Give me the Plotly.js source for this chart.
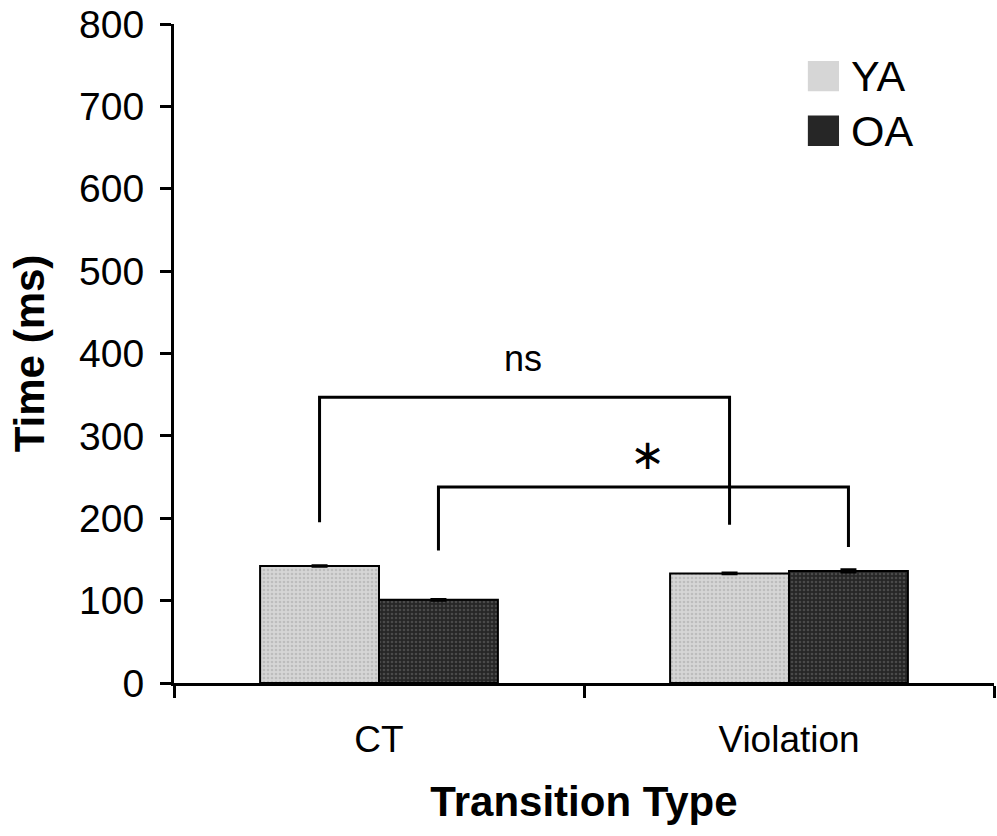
<!DOCTYPE html>
<html>
<head>
<meta charset="utf-8">
<script src="https://cdn.plot.ly/plotly-3.0.1.min.js"></script>
<style>html,body{margin:0;padding:0;background:#fff;}#chart{width:997px;height:836px;}</style>
</head>
<body>
<div id="chart"></div>
<script>
// ---- data ----
const categories = ["CT", "Violation"];
const seriesNames = ["YA", "OA"];
const yaValues = [142, 133];
const oaValues = [101, 136];
const yaErrors = [1, 1];
const oaErrors = [1, 2];
const seriesColors = ["#d6d6d6", "#262626"];
const seriesDotColors = ["#bdbdbd", "#4a4a4a"];
const yTickVals = [0, 100, 200, 300, 400, 500, 600, 700, 800];
const yTickText = ["0", "100", "200", "300", "400", "500", "600", "700", "800"];
// significance brackets: [category index, series index] endpoints, top value, leg bottoms, label
const bracketFrom = [[0, 0], [0, 1]];
const bracketTo = [[1, 0], [1, 1]];
const bracketTop = [347, 238];
const bracketLegs = [[195, 192], [161, 165]];
const bracketLabels = ["ns", "∗"];
const bracketLabelPos = [[0.35, 394], [0.656, 277]];

const bargap = 0.42;
const barW = (1 - bargap) / seriesNames.length;
function barCenter(cat, s) { return cat - (1 - bargap) / 2 + barW * (s + 0.5); }

const valuesList = [yaValues, oaValues];
const errList = [yaErrors, oaErrors];
const traces = seriesNames.map((n, i) => ({
  type: "bar", name: n, x: categories, y: valuesList[i],
  marker: {
    color: seriesColors[i], line: { color: "#000", width: 2 },
    pattern: { shape: ".", bgcolor: seriesColors[i], fgcolor: seriesDotColors[i], size: 4, solidity: 0.35, fillmode: "replace" }
  },
  error_y: { type: "data", array: errList[i], visible: true, color: "#000", thickness: 2, width: 8 },
  showlegend: false, hoverinfo: "skip"
}));

const shapes = [];
const annotations = [];
bracketFrom.forEach((f, i) => {
  const x0 = barCenter(f[0], f[1]);
  const x1 = barCenter(bracketTo[i][0], bracketTo[i][1]);
  shapes.push({
    type: "path", xref: "x", yref: "y",
    path: `M ${x0},${bracketLegs[i][0]} L ${x0},${bracketTop[i]} L ${x1},${bracketTop[i]} L ${x1},${bracketLegs[i][1]}`,
    line: { color: "#000", width: 3 }
  });
  annotations.push({
    xref: "x", yref: "y", x: bracketLabelPos[i][0], y: bracketLabelPos[i][1],
    text: bracketLabels[i], showarrow: false,
    font: { family: "Liberation Sans, Arial, sans-serif", size: i === 0 ? 36 : 42, color: "#000" }
  });
});

// legend (custom, large swatches)
const legX = 0.773, legY = [0.921, 0.838];
seriesNames.forEach((n, i) => {
  shapes.push({
    type: "rect", xref: "paper", yref: "paper",
    x0: legX, x1: legX + 0.038, y0: legY[i] - 0.023, y1: legY[i] + 0.023,
    fillcolor: seriesColors[i], line: { width: 0 }
  });
  annotations.push({
    xref: "paper", yref: "paper", x: legX + 0.05, y: legY[i], xanchor: "left", yanchor: "middle",
    text: n, showarrow: false,
    font: { family: "Liberation Sans, Arial, sans-serif", size: 43, color: "#000" }
  });
});

const layout = {
  width: 997, height: 836,
  margin: { l: 174, r: 3, t: 24, b: 153 },
  paper_bgcolor: "#fff", plot_bgcolor: "#fff",
  font: { family: "Liberation Sans, Arial, sans-serif", color: "#000" },
  barmode: "group", bargap: bargap, bargroupgap: 0,
  xaxis: {
    type: "category", range: [-0.5, 1.5], showgrid: false, zeroline: false,
    showline: true, linecolor: "#000", linewidth: 3,
    ticks: "outside", tickson: "boundaries", ticklen: 12, tickwidth: 3, tickcolor: "#000",
    tickfont: { size: 37 }, ticklabelstandoff: 22,
    title: { text: "<b>Transition Type</b>", font: { size: 42 }, standoff: 28 },
    automargin: false
  },
  yaxis: {
    range: [0, 800], tickvals: yTickVals, ticktext: yTickText, showgrid: false, zeroline: false,
    showline: true, linecolor: "#000", linewidth: 3,
    ticks: "outside", ticklen: 11, tickwidth: 3, tickcolor: "#000",
    tickfont: { size: 39 }, ticklabelstandoff: 8,
    title: { text: "<b>Time (ms)</b>", font: { size: 42 }, standoff: 22 },
    automargin: false
  },
  shapes: shapes, annotations: annotations
};

Plotly.newPlot("chart", traces, layout, { staticPlot: true, displayModeBar: false });
</script>
</body>
</html>
